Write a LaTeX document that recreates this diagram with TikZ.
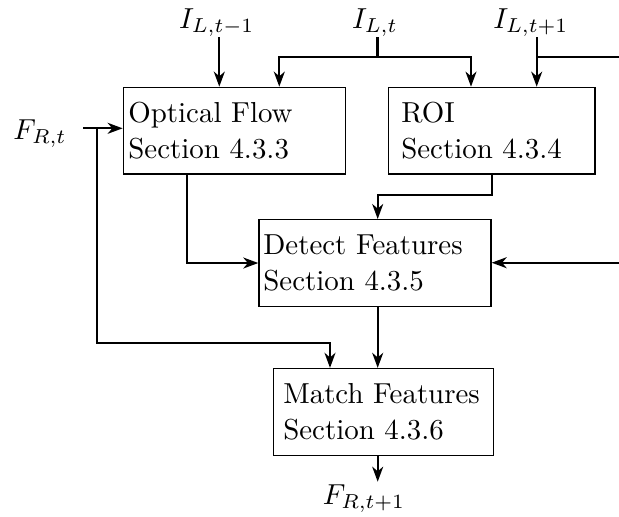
\documentclass[tikz,border=0pt]{standalone}
\usetikzlibrary{arrows.meta}
\begin{document}
\begin{tikzpicture}[x=0.346pt,y=-0.346pt,
  box/.style={draw, line width=0.45pt, inner ysep=0pt, align=left,
    minimum height=30pt, font=\fontsize{10}{12.6}\selectfont},
  conn/.style={line width=0.7pt},
  arr/.style={conn, -{Stealth[length=5.2pt,width=3.8pt,inset=1.6pt]}},
  lbl/.style={inner sep=0pt, anchor=base}]
\useasboundingbox (0,0) rectangle (619,516);

% processing blocks
\node[box, inner xsep=1.76pt, text width=73.43pt] (of)    at (234.5,130.65) {Optical Flow\\Section 4.3.3};
\node[box, inner xsep=4.5pt,  text width=62.5pt]  (roi)   at (491.65,130.65) {ROI\\Section 4.3.4};
\node[box, inner xsep=1.52pt, text width=77.26pt] (det)   at (375,263) {Detect Features\\Section 4.3.5};
\node[box, inner xsep=3.46pt, text width=69.2pt]  (match) at (383.3,411.85) {Match Features\\Section 4.3.6};

% input and output labels
\node[lbl] (ilm) at (216.7,28.5) {$I_{L,t-1}$};
\node[lbl] (il)  at (375,28.5)   {$I_{L,t}$};
\node[lbl] (ilp) at (530.8,28.5) {$I_{L,t+1}$};
\node[lbl] (fr)  at (40,139)     {$F_{R,t}$};
\node[lbl] (frp) at (364,504)    {$F_{R,t+1}$};

% helper points for the connectors
\coordinate (s1) at (219.3,37.3);
\coordinate (s2) at (377.5,37.3);
\coordinate (s3) at (536.7,37.3);
\coordinate (j2) at (377.5,57.3);
\coordinate (e3) at (619,57.3);
\coordinate (c1) at (279.3,0);
\coordinate (c2) at (471,0);
\coordinate (fs) at (83,128.3);
\coordinate (fj) at (97.3,128.3);
\coordinate (fk) at (97.3,342.7);
\coordinate (c4) at (330,0);
\coordinate (c5) at (187.3,0);
\coordinate (col) at (377.7,0);
\coordinate (er) at (619,262.7);
\coordinate (out) at (377.7,481.7);

% image inputs
\draw[arr] (s1) -- (s1 |- of.north);
\draw[conn] (s2) -- (j2);
\draw[arr] (j2) -| (c1 |- of.north);
\draw[arr] (j2) -| (c2 |- roi.north);
\draw[arr] (s3) -- (s3 |- roi.north);
\draw[conn] (s3 |- j2) -- (e3);

% previous features
\draw[arr] (fs) -- (fs -| of.west);
\draw[arr] (fj) -- (fk) -| (c4 |- match.north);

% flow between blocks
\draw[arr] (c5 |- of.south) |- (det.west);
\draw[arr] (roi.south) -- ++(0,20) -| (col |- det.north);
\draw[arr] (er) -- (er -| det.east);
\draw[arr] (col |- det.south) -- (col |- match.north);
\draw[arr] (col |- match.south) -- (out);
\end{tikzpicture}
\end{document}
